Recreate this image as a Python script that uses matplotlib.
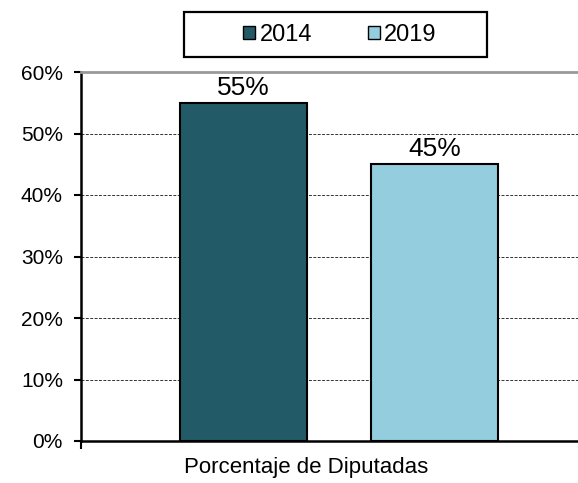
import matplotlib.pyplot as plt
from matplotlib.patches import Patch, Rectangle

plt.rcParams['font.family'] = ['Liberation Sans', 'DejaVu Sans']

series = ['2014', '2019']
values = [55, 45]
colors = ['#235A68', '#94CDDE']
category = 'Porcentaje de Diputadas'
yticks = [0, 10, 20, 30, 40, 50, 60]

fig = plt.figure(figsize=(5.78, 4.83), dpi=100)
ax = fig.add_axes([81 / 578, 1 - 441 / 483, 497 / 578, 369 / 483])

xpos = [-0.5, 0.5]
bars = ax.bar(xpos, values, width=0.665, color=colors, edgecolor='black',
              linewidth=1.5, zorder=3)
for b, v in zip(bars, values):
    ax.text(b.get_x() + b.get_width() / 2, v + 0.5, f'{v}%', ha='center', va='bottom',
            fontsize=19)

ax.set_xlim(-1.351, 1.251)
ax.set_ylim(0, 60)
ax.set_yticks(yticks)
ax.set_yticklabels([f'{t}%' for t in yticks], fontsize=15)
ax.yaxis.grid(True, linestyle=(0, (3, 1.5)), color='#333333', linewidth=0.7, zorder=0)
ax.set_xticks([-1.351])
ax.set_xticklabels([''])
ax.tick_params(axis='x', length=6, width=1.5, direction='out')
ax.tick_params(axis='y', length=5, width=1.5, direction='out', pad=8)
ax.text(306 / 578, 1 - 467 / 483, category, transform=fig.transFigure, ha='center',
        va='center', fontsize=16)

for s in ['left', 'bottom']:
    ax.spines[s].set_linewidth(1.8)
ax.spines['right'].set_visible(False)
ax.spines['top'].set_color('#999999')
ax.spines['top'].set_linewidth(2)

# legend box
fig.patches.append(Rectangle((184 / 578, 1 - 57 / 483), 303 / 578, 45 / 483,
                             transform=fig.transFigure, fill=False,
                             edgecolor='black', linewidth=1.6))
handles = [Patch(facecolor=c, edgecolor='black', label=s) for s, c in zip(series, colors)]
fig.legend(handles=handles, loc='center', bbox_to_anchor=(340 / 578, 1 - 35 / 483),
           ncol=2, frameon=False, fontsize=17, handlelength=0.5, handleheight=0.5,
           handletextpad=0.2, columnspacing=2.35, borderpad=0)

plt.savefig('out.png')
